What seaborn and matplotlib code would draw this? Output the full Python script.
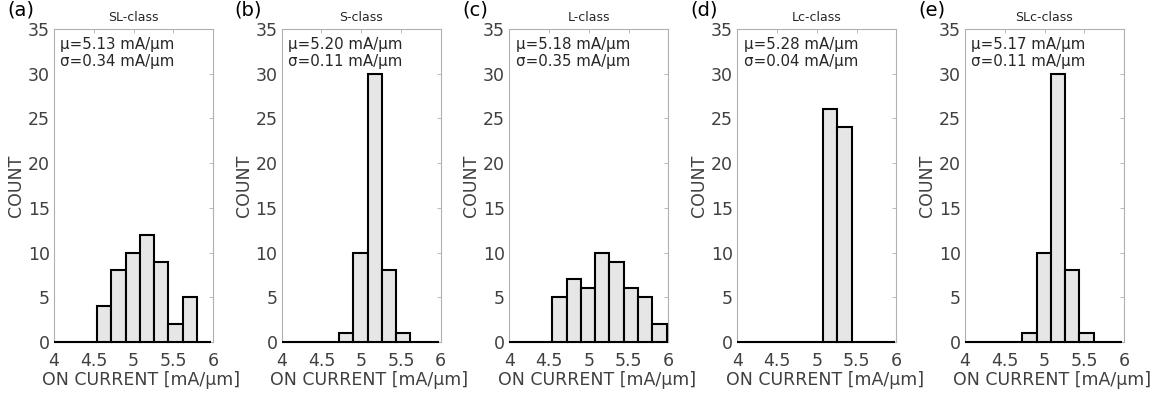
import numpy as np
import pandas as pd
import seaborn as sns
import matplotlib.pyplot as plt

sns.set_style("white")
plt.rcParams['font.family'] = ['DejaVu Sans']

# histogram bins (mA/um) and counts per device class
bin_edges = [4.00, 4.18, 4.36, 4.54, 4.72, 4.90, 5.08, 5.26, 5.44, 5.62, 5.80, 5.98]
classes = ['SL-class', 'S-class', 'L-class', 'Lc-class', 'SLc-class']
letters = ['(a)', '(b)', '(c)', '(d)', '(e)']
counts_sl = [0, 0, 0, 4, 8, 10, 12, 9, 2, 5, 0]
counts_s = [0, 0, 0, 0, 1, 10, 30, 8, 1, 0, 0]
counts_l = [0, 0, 0, 5, 7, 6, 10, 9, 6, 5, 2]
counts_lc = [0, 0, 0, 0, 0, 0, 26, 24, 0, 0, 0]
counts_slc = [0, 0, 0, 0, 1, 10, 30, 8, 1, 0, 0]
mu = [5.13, 5.20, 5.18, 5.28, 5.17]
sigma = [0.34, 0.11, 0.35, 0.04, 0.11]

all_counts = [counts_sl, counts_s, counts_l, counts_lc, counts_slc]
centers = [(a + b) / 2 for a, b in zip(bin_edges[:-1], bin_edges[1:])]

fig = plt.figure(figsize=(11.66, 3.98), dpi=100)
W, H = 1166, 398
lefts = [54, 281.7, 509.3, 737.3, 965]
ax_w, top, bottom = 159, 29, 342

tick_gray = '#404040'
for i, name in enumerate(classes):
    ax = fig.add_axes([lefts[i] / W, 1 - bottom / H, ax_w / W, (bottom - top) / H])
    df = pd.DataFrame({'current': centers, 'n': all_counts[i]})
    sns.histplot(data=df, x='current', weights='n', bins=bin_edges, ax=ax,
                 color='#e6e6e6', edgecolor='black', linewidth=1.5, alpha=1)
    for p in ax.patches:
        p.set_zorder(3)
        p.set_clip_on(False)
    ax.set_xlim(4, 6)
    ax.set_ylim(0, 35)
    ax.set_xticks([4, 4.5, 5, 5.5, 6])
    ax.set_xticklabels(['4', '4.5', '5', '5.5', '6'])
    ax.set_yticks(range(0, 36, 5))
    ax.tick_params(axis='both', direction='in', length=3, width=0.6, colors='#b0b0b0',
                   labelcolor=tick_gray, labelsize=12.5, top=True, right=True)
    ax.tick_params(axis='x', pad=7)
    ax.tick_params(axis='y', pad=3)
    for s in ax.spines.values():
        s.set_color('#b0b0b0')
        s.set_linewidth(0.8)
    ax.set_xlabel('ON CURRENT [mA/μm]', fontsize=12.5, color=tick_gray, labelpad=1)
    ax.xaxis.label.set_x(0.55)
    ax.set_ylabel('COUNT', fontsize=12.5, color=tick_gray, labelpad=2)
    ax.set_title(name, fontsize=9, color='#262626', pad=6)
    ax.text(0.04, 0.975, f'μ={mu[i]:.2f} mA/μm\nσ={sigma[i]:.2f} mA/μm',
            transform=ax.transAxes, ha='left', va='top', fontsize=10.8,
            color='#262626', linespacing=1.2)
    fig.text((lefts[i] - 47) / W, 1.0, letters[i], ha='left', va='top',
             fontsize=14, color='black')

fig.savefig('out.png', dpi=100)
